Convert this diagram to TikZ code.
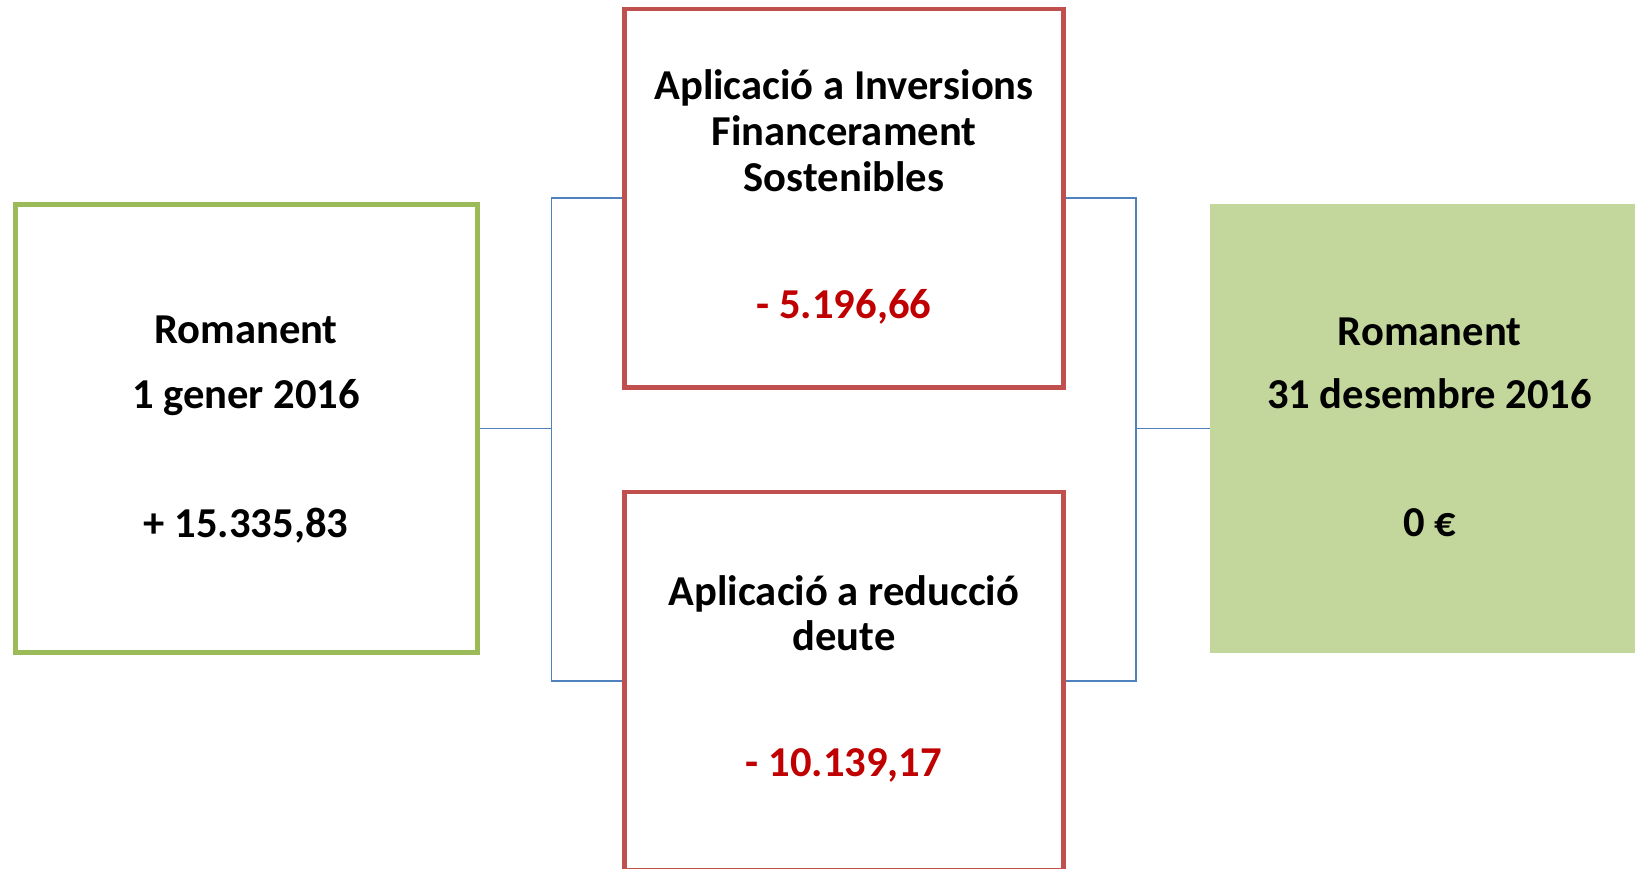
\documentclass[tikz,border=0pt]{standalone}
\usepackage{fontspec}
\setmainfont{Carlito}
\definecolor{grnline}{HTML}{9BBB59}
\definecolor{redline}{HTML}{C0504D}
\definecolor{valred}{HTML}{C00000}
\definecolor{grnfill}{HTML}{C3D69B}
\definecolor{bluline}{HTML}{4F81BD}
\begin{document}
\begin{tikzpicture}[x=1pt,y=-1pt,
  greenbox/.style={rectangle, draw=grnline, line width=5pt, inner sep=0pt},
  redbox/.style={rectangle, draw=redline, line width=4.5pt, inner sep=0pt},
  fillbox/.style={rectangle, fill=grnfill, inner sep=0pt},
  conn/.style={draw=bluline, line width=1.8pt},
  txt/.style={font=\fontsize{42.6}{50}\selectfont\bfseries, anchor=base, inner sep=0pt},
  valtxt/.style={txt, text=valred}]
\useasboundingbox (0,0) rectangle (1635,869);
\clip (0,0) rectangle (1635,869);
\fill[white] (0,0) rectangle (1635,869);
% boxes
\node[greenbox, minimum width=462pt, minimum height=447pt] (L) at (246,428.5) {};
\node[redbox, minimum width=439pt, minimum height=378.3pt] (T) at (844.2,198.3) {};
\node[redbox, minimum width=439pt, minimum height=378pt] (B) at (844.2,681) {};
\node[fillbox, minimum width=439pt, minimum height=448pt] (R) at (1429.5,428.5) {};
% junctions
\coordinate (jl) at (551.5,428.5);
\coordinate (jr) at (1136,428.5);
% connectors
\draw[conn] (L.east) -- (jl);
\draw[conn] (T.west) -| (jl) |- (B.west);
\draw[conn] (T.east) -| (jr) |- (B.east);
\draw[conn] (jr) -- (R.west);
% left text
\node[txt] (l1) at (246,343) {Romanent};
\node[txt] (l2) at (246,408) {1 gener 2016};
\node[txt] (l3) at (246,537) {+ 15.335,83};
% top text
\node[txt] (t1) at (844,100) {Aplicació a Inversions};
\node[txt] (t2) at (844,145.5) {Financerament};
\node[txt] (t3) at (844,191.5) {Sostenibles};
\node[valtxt] (t4) at (844,318) {- 5.196,66};
% bottom text
\node[txt] (b1) at (844,605) {Aplicació a reducció};
\node[txt] (b2) at (844,650) {deute};
\node[valtxt] (b3) at (844,776.7) {- 10.139,17};
% right text
\node[txt] (r1) at (1429.6,345) {Romanent};
\node[txt] (r2) at (1429.6,408.5) {31 desembre 2016};
\node[txt] (r3) at (1429.6,536.6) {0 €};
\end{tikzpicture}
\end{document}
